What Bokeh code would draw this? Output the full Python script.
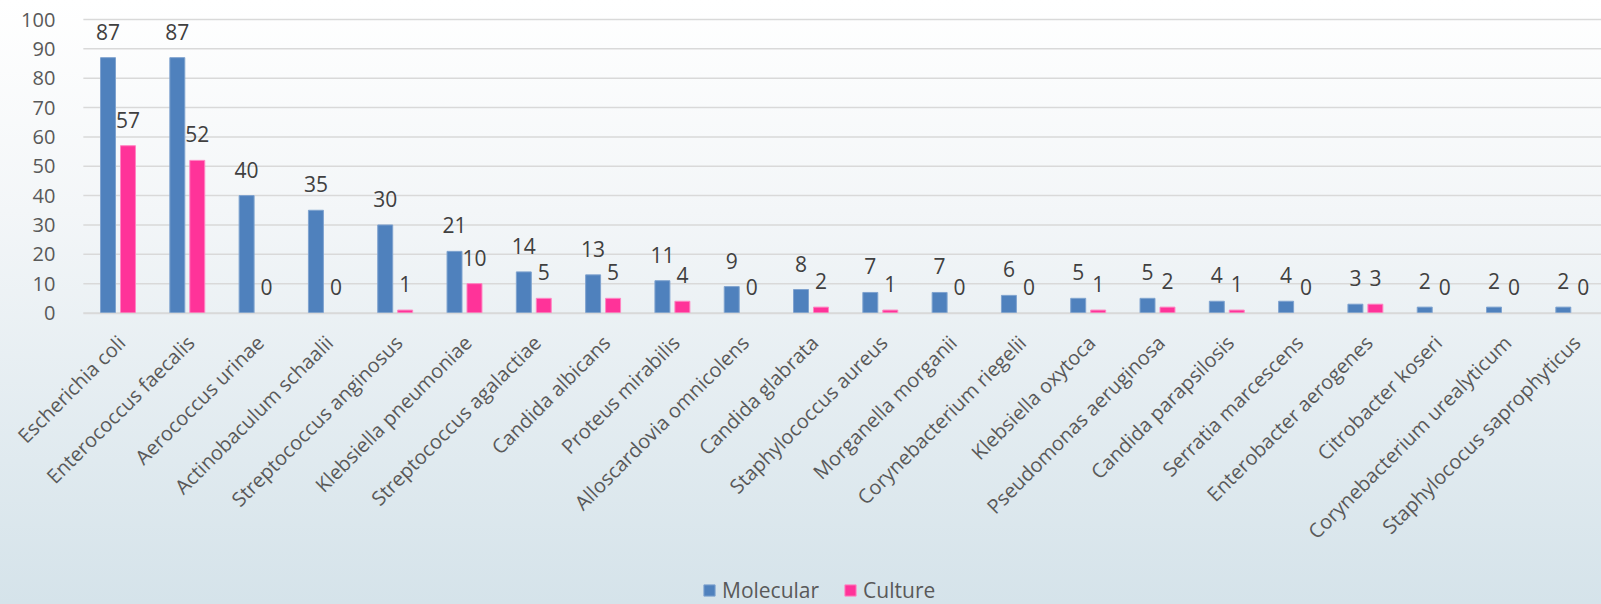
from bokeh.plotting import figure
from bokeh.models import (ColumnDataSource, FixedTicker, Legend, LegendItem)
from bokeh.embed import file_html
from bokeh.resources import INLINE
from bokeh.core.properties import value
import math

# Detected organisms, molecular vs culture
organisms = [
    "Escherichia coli", "Enterococcus faecalis", "Aerococcus urinae",
    "Actinobaculum schaalii", "Streptococcus anginosus", "Klebsiella pneumoniae",
    "Streptococcus agalactiae", "Candida albicans", "Proteus mirabilis",
    "Alloscardovia omnicolens", "Candida glabrata", "Staphylococcus aureus",
    "Morganella morganii", "Corynebacterium riegelii", "Klebsiella oxytoca",
    "Pseudomonas aeruginosa", "Candida parapsilosis", "Serratia marcescens",
    "Enterobacter aerogenes", "Citrobacter koseri", "Corynebacterium urealyticum",
    "Staphylococus saprophyticus",
]
molecular = [87, 87, 40, 35, 30, 21, 14, 13, 11, 9, 8, 7, 7, 6, 5, 5, 4, 4, 3, 2, 2, 2]
culture = [57, 52, 0, 0, 1, 10, 5, 5, 4, 0, 2, 1, 0, 0, 1, 2, 1, 0, 3, 0, 0, 0]
y_ticks = [0, 10, 20, 30, 40, 50, 60, 70, 80, 90, 100]

FONT = "Open Sans"
BLUE = "#4f81bd"
PINK = "#ff3399"

centers = [i + 0.5 for i in range(len(organisms))]
offset = 0.144
bar_w = 0.216
label_shift = 0.05  # names end a touch right of the category centre


def bar_source(xs, vals):
    return ColumnDataSource(dict(
        x=xs, top=vals, label=[str(v) for v in vals],
        edge=[0.0 if v == 0 else 1.0 for v in vals]))


mol_src = bar_source([c - offset for c in centers], molecular)
cul_src = bar_source([c + offset for c in centers], culture)

W, H = 1601, 604
TOP = 19                     # pixel position of the 100 gridline
LEFT = 82.85                 # pixel position of the value axis
cat_px = 69.3                # pixels per category
px_per_unit = 2.935          # 100 units span ~293.5 px
x_start = -LEFT / cat_px
x_end = (W - LEFT) / cat_px
y_top = 100 + TOP / px_per_unit
y_bottom = 100 - (H - TOP) / px_per_unit

# the frame fills the whole page; both axes are pinned inside it
p = figure(width=W, height=H, output_backend="svg", toolbar_location=None,
           x_range=(x_start, x_end), y_range=(y_bottom, y_top),
           min_border_left=0, min_border_right=0, min_border_top=0,
           min_border_bottom=0)
p.background_fill_color = None
p.border_fill_color = None
p.outline_line_color = None
p.styles = {"background": "linear-gradient(to bottom, #ffffff 0%, #f3f6f8 35%, #d5e3ea 100%)"}

# horizontal gridlines, limited to the plotting area right of the value axis
grid_src = ColumnDataSource(dict(x0=[0] * len(y_ticks), x1=[x_end] * len(y_ticks),
                                 y=y_ticks))
p.segment(x0="x0", x1="x1", y0="y", y1="y", source=grid_src,
          line_color="#d9d9d9", line_width=1.5, level="underlay")

r_mol = p.vbar(x="x", top="top", bottom=0, width=bar_w, source=mol_src,
               fill_color=BLUE, line_color="#7fa3cf", line_width=1,
               line_alpha="edge")
r_cul = p.vbar(x="x", top="top", bottom=0, width=bar_w, source=cul_src,
               fill_color=PINK, line_color="#ff85c2", line_width=1,
               line_alpha="edge")

for src in (mol_src, cul_src):
    p.text(x="x", y="top", text="label", source=src,
           text_font=value(FONT), text_font_size="21px", text_color="#404040",
           text_align="center", text_baseline="alphabetic", y_offset=-26)

# value axis pinned at x = 0
p.yaxis.fixed_location = 0
p.yaxis.ticker = FixedTicker(ticks=y_ticks)
p.yaxis.axis_line_color = None
p.yaxis.major_tick_line_color = None
p.yaxis.minor_tick_line_color = None
p.yaxis.major_label_standoff = 22
p.yaxis.major_label_text_font = FONT
p.yaxis.major_label_text_font_size = "20px"
p.yaxis.major_label_text_color = "#595959"

# category axis pinned at zero, organism names rotated beneath it
name_ticks = [c + label_shift for c in centers]
p.xaxis.fixed_location = 0
p.xaxis.bounds = (0, x_end)
p.xaxis.ticker = FixedTicker(ticks=name_ticks)
p.xaxis.major_label_overrides = {t: name for t, name in zip(name_ticks, organisms)}
p.xaxis.major_label_orientation = math.pi / 4
p.xaxis.axis_line_color = "#d9d9d9"
p.xaxis.axis_line_width = 1.5
p.xaxis.major_tick_line_color = None
p.xaxis.minor_tick_line_color = None
p.xaxis.major_label_standoff = 20
p.xaxis.major_label_text_font = FONT
p.xaxis.major_label_text_font_size = "20px"
p.xaxis.major_label_text_color = "#595959"

p.xgrid.grid_line_color = None
p.ygrid.grid_line_color = None

legend = Legend(items=[LegendItem(label="Molecular", renderers=[r_mol]),
                       LegendItem(label="Culture", renderers=[r_cul])],
                orientation="horizontal", location=(702, 0),
                padding=0, margin=0, spacing=24,
                glyph_width=14, glyph_height=14, label_height=18,
                label_standoff=6, label_text_font=FONT,
                label_text_font_size="21px", label_text_color="#595959",
                label_text_line_height=0.8,
                background_fill_alpha=0, border_line_color=None)
p.add_layout(legend, "center")

open("out.html", "w").write(file_html(p, INLINE))
